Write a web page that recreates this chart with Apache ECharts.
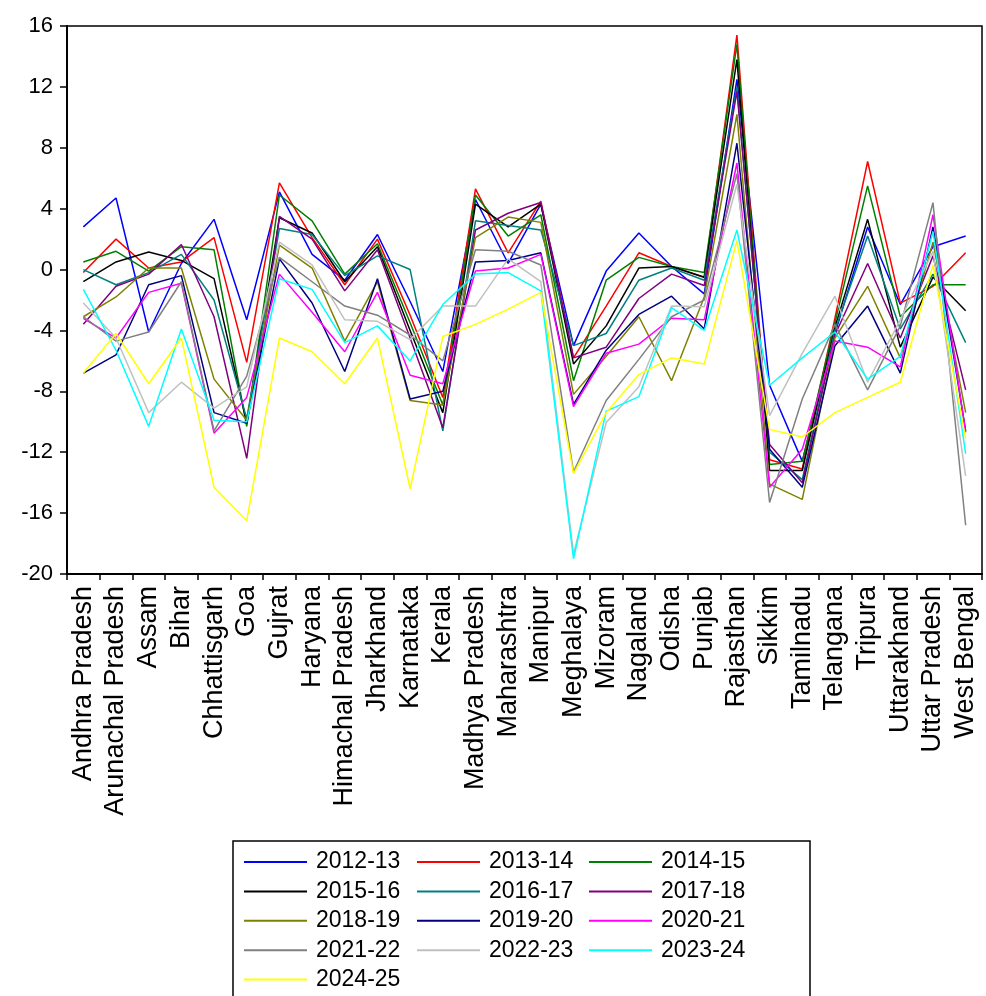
<!DOCTYPE html>
<html>
<head>
<meta charset="utf-8">
<script src="https://cdn.jsdelivr.net/npm/echarts@6/dist/echarts.min.js"></script>
<style>
  html, body { margin: 0; padding: 0; background: #fff; }
  #chart { width: 986px; height: 996px; }
</style>
</head>
<body>
<div id="chart"></div>
<script>
const states = ['Andhra Pradesh', 'Arunachal Pradesh', 'Assam', 'Bihar', 'Chhattisgarh', 'Goa', 'Gujrat',
  'Haryana', 'Himachal Pradesh', 'Jharkhand', 'Karnataka', 'Kerala', 'Madhya Pradesh', 'Maharashtra',
  'Manipur', 'Meghalaya', 'Mizoram', 'Nagaland', 'Odisha', 'Punjab', 'Rajasthan', 'Sikkim', 'Tamilnadu',
  'Telangana', 'Tripura', 'Uttarakhand', 'Uttar Pradesh', 'West Bengal'];

const yTicks = [-20, -16, -12, -8, -4, 0, 4, 8, 12, 16];

const y2012_13 = [2.8, 4.7, -4.1, 0.4, 3.3, -3.3, 5.1, 1.0, -0.7, 2.3, -2.1, -6.7, 4.6, 0.4, 4.3, -5.0, -0.1, 2.4, 0.2, -1.6, 12.5, -7.6, -12.6, -4.2, 2.8, -2.3, 1.5, 2.2];
const y2013_14 = [-0.2, 2.0, 0.1, 0.5, 2.1, -6.1, 5.7, 2.1, -1.0, 2.0, -3.0, -8.4, 5.3, 1.1, 4.5, -5.8, -2.4, 1.1, 0.2, -0.5, 15.4, -12.5, -13.1, -3.2, 7.1, -2.2, -1.1, 1.1];
const y2014_15 = [0.5, 1.2, -0.1, 1.5, 1.3, -10.3, 4.9, 3.2, -0.3, 1.7, -3.5, -8.9, 4.9, 2.2, 3.6, -7.3, -0.7, 0.8, 0.2, -0.2, 14.8, -12.8, -12.6, -3.5, 5.5, -3.1, -1.0, -1.0];
const y2015_16 = [-0.8, 0.5, 1.15, 0.6, -0.6, -10.1, 3.4, 2.4, -0.8, 1.5, -4.0, -9.4, 4.3, 2.8, 4.3, -6.2, -3.7, 0.1, 0.2, -0.5, 13.8, -13.2, -13.2, -3.8, 3.3, -5.1, -0.5, -2.7];
const y2016_17 = [0.0, -1.0, -0.2, 1.0, -2.0, -9.8, 2.7, 2.3, -0.4, 0.9, 0.0, -10.6, 3.2, 2.9, 2.6, -5.0, -4.2, -0.7, 0.1, -0.7, 12.0, -12.0, -13.8, -4.0, 2.2, -3.9, -0.3, -4.8];
const y2017_18 = [-3.6, -1.1, -0.3, 1.65, -3.1, -12.4, 3.5, 2.0, -1.4, 1.3, -4.5, -10.4, 2.6, 3.7, 4.4, -5.8, -5.1, -1.9, -0.3, -1.05, 11.7, -11.5, -14.0, -4.3, 0.4, -4.5, 0.9, -7.9];
const y2018_19 = [-3.1, -1.8, 0.1, 0.1, -7.2, -9.9, 1.6, 0.1, -4.7, -0.8, -8.6, -8.9, 2.1, 3.45, 3.1, -8.2, -5.7, -3.1, -7.3, -1.8, 10.2, -14.1, -15.1, -4.5, -1.1, -5.8, 1.8, -9.4];
const y2019_20 = [-6.8, -5.6, -1.0, -0.4, -9.4, -10.1, 0.7, -2.2, -6.7, -0.6, -8.5, -8.0, 0.5, 0.6, 1.1, -8.85, -5.3, -2.95, -1.75, -3.9, 8.3, -11.8, -14.3, -5.0, -2.4, -6.8, 2.8, -10.6];
const y2020_21 = [-3.2, -4.5, -1.5, -0.9, -10.75, -8.4, -0.3, -2.8, -5.4, -1.5, -6.95, -7.5, -0.1, 0.1, 1.0, -9.0, -5.5, -4.9, -3.2, -3.3, 7.0, -14.3, -11.8, -4.7, -5.1, -6.4, 3.6, -10.7];
const y2021_22 = [-3.1, -4.7, -4.1, -0.8, -10.6, -7.0, 0.8, -0.8, -2.4, -3.0, -4.3, -6.0, 1.3, 1.2, 0.3, -13.3, -8.6, -5.9, -3.1, -2.0, 6.3, -15.3, -8.5, -3.6, -7.9, -3.7, 4.4, -16.8];
const y2022_23 = [-2.2, -4.5, -9.4, -7.4, -9.1, -7.7, 1.8, 0.3, -3.3, -3.4, -4.6, -2.4, -2.4, 0.7, -0.8, -18.7, -10.05, -7.7, -2.4, -2.45, 5.6, -9.6, -5.5, -1.75, -7.4, -3.3, 1.2, -13.55];
const y2023_24 = [-1.3, -5.3, -10.3, -3.9, -9.9, -10.0, -0.6, -1.3, -4.8, -3.7, -6.0, -2.3, -0.3, -0.2, -1.4, -19.0, -9.3, -8.35, -2.5, -4.0, 2.6, -7.6, -5.8, -4.1, -7.2, -5.7, 2.5, -12.1];
const y2024_25 = [-6.8, -4.2, -7.5, -4.5, -14.3, -16.5, -4.5, -5.4, -7.5, -4.5, -14.4, -4.4, -3.6, -2.6, -1.5, -13.4, -9.4, -6.9, -5.8, -6.2, 1.9, -10.5, -11.0, -9.4, -8.4, -7.4, 0.3, -11.1];

const seriesNames = ['2012-13', '2013-14', '2014-15', '2015-16', '2016-17', '2017-18', '2018-19',
  '2019-20', '2020-21', '2021-22', '2022-23', '2023-24', '2024-25'];
const seriesData = [y2012_13, y2013_14, y2014_15, y2015_16, y2016_17, y2017_18, y2018_19,
  y2019_20, y2020_21, y2021_22, y2022_23, y2023_24, y2024_25];
const colors = ['#0000ff', '#ff0000', '#008000', '#000000', '#008080', '#800080', '#808000',
  '#000080', '#ff00ff', '#808080', '#c0c0c0', '#00ffff', '#ffff00'];

const font = 'Arial, "Liberation Sans", sans-serif';

const chart = echarts.init(document.getElementById('chart'));

// three legend columns, like the boxed legend of the original
const legendCol = (names, left) => ({
  orient: 'vertical',
  left: left,
  top: 850,
  padding: 0,
  itemGap: 5.4,
  icon: 'rect',
  itemWidth: 63,
  itemHeight: 2,
  data: names,
  textStyle: { fontFamily: font, fontSize: 23, color: '#000', lineHeight: 24, padding: [0, 0, 0, 4] }
});

const option = {
  animation: false,
  backgroundColor: '#fff',
  color: colors,
  grid: {
    left: 67, right: 4, top: 26, bottom: 422,
    show: true, borderColor: '#000', borderWidth: 1.5, backgroundColor: 'transparent'
  },
  legend: [
    legendCol(['2012-13', '2015-16', '2018-19', '2021-22', '2024-25'], 244),
    legendCol(['2013-14', '2016-17', '2019-20', '2022-23'], 417),
    legendCol(['2014-15', '2017-18', '2020-21', '2023-24'], 589)
  ],
  graphic: [{
    type: 'rect',
    shape: { x: 233, y: 841, width: 577, height: 170 },
    style: { fill: 'none', stroke: '#000', lineWidth: 1.5 },
    silent: true
  }],
  xAxis: {
    type: 'category',
    data: states,
    boundaryGap: true,
    axisLine: { onZero: false, lineStyle: { color: '#000', width: 2 } },
    axisTick: { show: true, length: 6, lineStyle: { color: '#000', width: 1.5 } },
    axisLabel: { interval: 0, rotate: 90, margin: 12, color: '#000', fontFamily: font, fontSize: 27 }
  },
  yAxis: {
    type: 'value',
    min: yTicks[0],
    max: yTicks[yTicks.length - 1],
    interval: 4,
    splitLine: { show: false },
    axisLine: { show: true, lineStyle: { color: '#000', width: 2 } },
    axisTick: { show: true, length: 7, lineStyle: { color: '#000', width: 1.5 } },
    axisLabel: { margin: 14, color: '#000', fontFamily: font, fontSize: 22 }
  },
  series: seriesNames.map((name, i) => ({
    name: name,
    type: 'line',
    data: seriesData[i],
    symbol: 'none',
    lineStyle: { width: 1.5, color: colors[i] },
    itemStyle: { color: colors[i] }
  }))
};

chart.setOption(option);
</script>
</body>
</html>
